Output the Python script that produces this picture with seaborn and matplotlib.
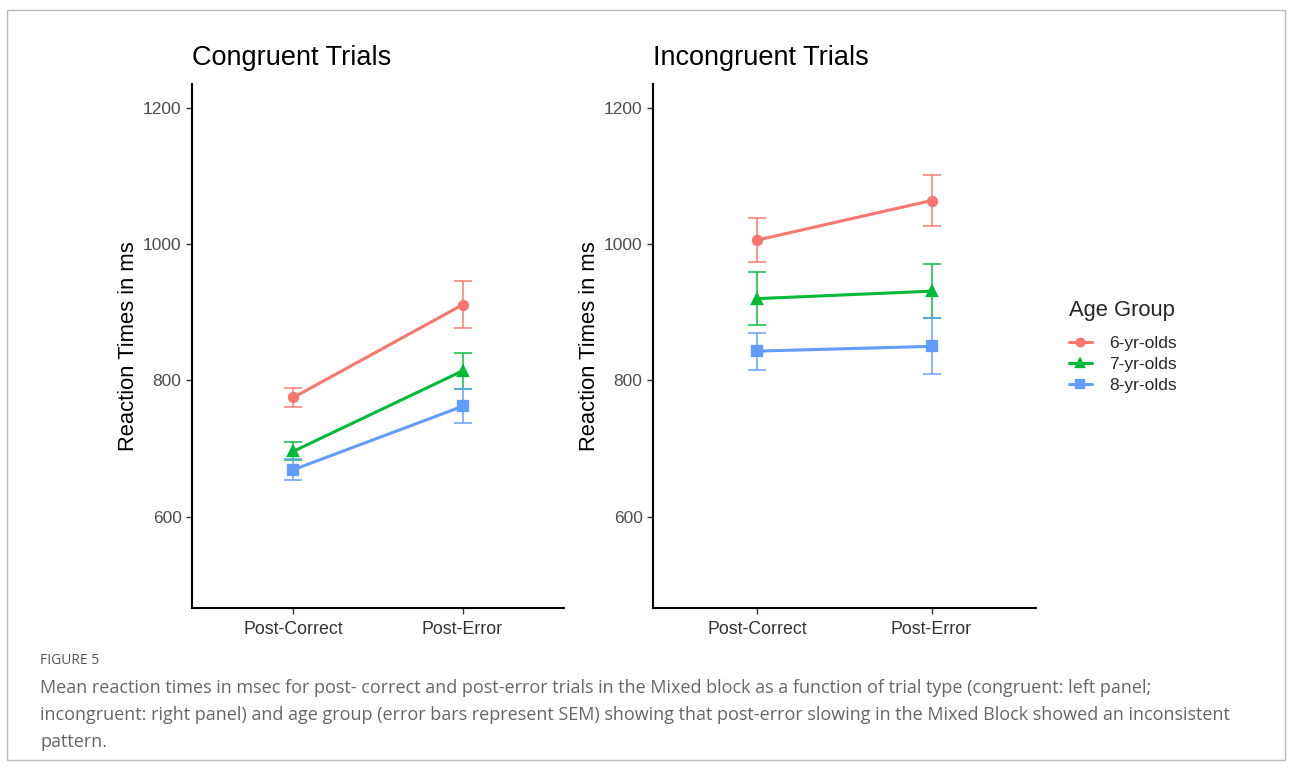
import matplotlib
matplotlib.use("Agg")
import matplotlib.pyplot as plt
import seaborn as sns
import pandas as pd
from matplotlib.patches import Rectangle

# ---- data ----
conditions = ["Post-Correct", "Post-Error"]
groups = ["6-yr-olds", "7-yr-olds", "8-yr-olds"]

cong_6 = [775, 911]
cong_7 = [696, 814]
cong_8 = [669, 762]
cong_6_sem = [13.5, 34.5]
cong_7_sem = [13, 26]
cong_8_sem = [15, 25]

incong_6 = [1006, 1064]
incong_7 = [920, 931]
incong_8 = [843, 850]
incong_6_sem = [32, 37.5]
incong_7_sem = [39, 40]
incong_8_sem = [27, 41]

panel_titles = ["Congruent Trials", "Incongruent Trials"]
y_ticks = [600, 800, 1000, 1200]

colors = ["#F8766D", "#00BA38", "#619CFF"]
markers = ["o", "^", "s"]


def make_df(means, sems):
    rows = []
    for g, m, s in zip(groups, means, sems):
        for c, mv, sv in zip(conditions, m, s):
            rows.append({"Condition": c, "Group": g, "RT": mv, "SEM": sv})
    return pd.DataFrame(rows)


df_cong = make_df([cong_6, cong_7, cong_8], [cong_6_sem, cong_7_sem, cong_8_sem])
df_incong = make_df([incong_6, incong_7, incong_8], [incong_6_sem, incong_7_sem, incong_8_sem])

sns.set_theme(style="ticks")
plt.rcParams["font.family"] = ["Liberation Sans", "DejaVu Sans"]

W, H = 1293, 770
fig = plt.figure(figsize=(W / 100, H / 100), dpi=100)

# figure border
fig.patches.append(Rectangle((7 / W, 1 - 760 / H), (1285 - 7) / W, (760 - 10) / H,
                             transform=fig.transFigure, fill=False,
                             edgecolor="#bbbbbb", linewidth=1.0))

ax_pos = [
    [192 / W, 1 - 608 / H, (564 - 192) / W, (608 - 84) / H],
    [653 / W, 1 - 608 / H, (1036 - 653) / W, (608 - 84) / H],
]

palette = dict(zip(groups, colors))
for i, (df, title) in enumerate(zip([df_cong, df_incong], panel_titles)):
    ax = fig.add_axes(ax_pos[i])
    # error bars (SEM)
    for g, col in zip(groups, colors):
        sub = df[df["Group"] == g]
        xpos = [conditions.index(c) for c in sub["Condition"]]
        ax.errorbar(xpos, sub["RT"], yerr=sub["SEM"], fmt="none",
                    ecolor=col, alpha=0.75, elinewidth=1.4, capsize=6.2,
                    capthick=1.4, zorder=2)
    sns.pointplot(data=df, x="Condition", y="RT", hue="Group",
                  hue_order=groups, order=conditions, palette=palette,
                  markers=markers, linestyles="-", errorbar=None,
                  markersize=6.5, linewidth=2.2, ax=ax, zorder=3)
    ax.set_xlim(-0.6, 1.6)
    ax.set_ylim(466, 1235)
    ax.set_yticks(y_ticks)
    ax.set_xlabel("")
    ax.set_ylabel("Reaction Times in ms", fontsize=15.8, color="black", labelpad=3)
    ax.set_title(title, loc="left", fontsize=19.5, pad=14, color="black")
    sns.despine(ax=ax)
    for s in ["left", "bottom"]:
        ax.spines[s].set_linewidth(1.5)
        ax.spines[s].set_color("black")
    ax.tick_params(axis="both", labelsize=12.5, labelcolor="#4D4D4D",
                   color="#333333", length=4, width=1.0)
    ax.tick_params(axis="x", labelcolor="#333333", labelsize=12.8, pad=5)
    handles, labels = ax.get_legend_handles_labels()
    ax.get_legend().remove()

leg = fig.legend(handles, labels, title="Age Group", loc="upper left",
                 bbox_to_anchor=(1062 / W, 1 - 293 / H), frameon=False,
                 fontsize=12.5, title_fontsize=15.8, handlelength=1.3,
                 labelspacing=0.32, handletextpad=1.0, borderaxespad=0,
                 markerscale=0.85)
leg._legend_box.align = "left"
leg._legend_box.sep = 11

cap_font = ["Open Sans", "DejaVu Sans"]
fig.text(40 / W, 1 - 661 / H, "FIGURE 5", fontsize=10, color="#555555",
         va="center", ha="left", family=cap_font)
cap_lines = [
    "Mean reaction times in msec for post- correct and post-error trials in the Mixed block as a function of trial type (congruent: left panel;",
    "incongruent: right panel) and age group (error bars represent SEM) showing that post-error slowing in the Mixed Block showed an inconsistent",
    "pattern.",
]
for k, line in enumerate(cap_lines):
    fig.text(40 / W, 1 - (688 + 27 * k) / H, line, fontsize=13.0, color="#666666",
             va="center", ha="left", family=cap_font)

fig.savefig("out.png", dpi=100)
